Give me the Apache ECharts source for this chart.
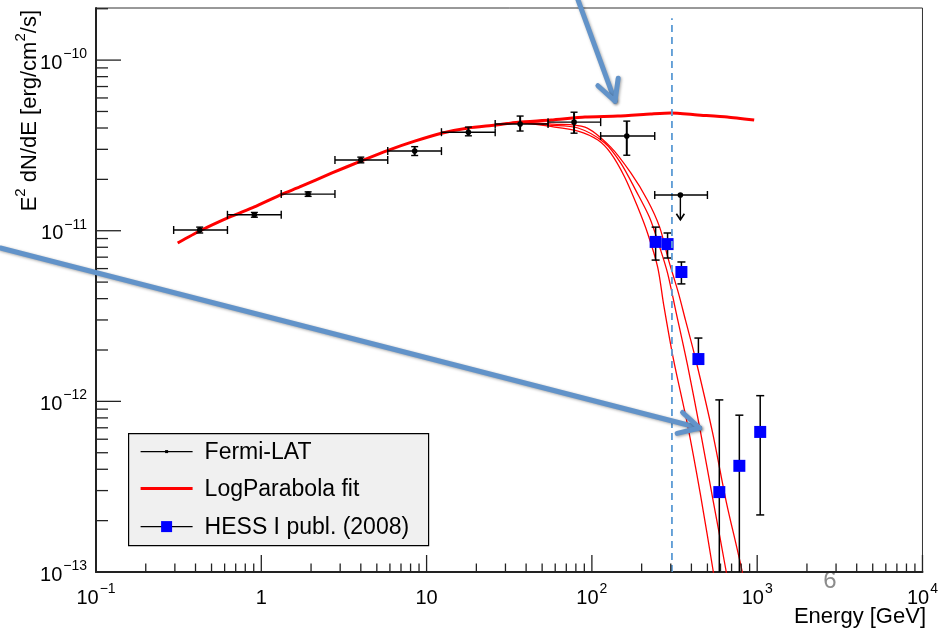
<!DOCTYPE html>
<html>
<head>
<meta charset="utf-8">
<script src="https://cdn.jsdelivr.net/npm/echarts@6/dist/echarts.min.js"></script>
<style>
  html, body { margin: 0; padding: 0; background: #fff; }
  #chart { width: 941px; height: 628px; }
</style>
</head>
<body>
<div id="chart"></div>
<script>
// Fermi-LAT bins: energy [GeV] and E^2 dN/dE [erg/cm2/s]
const fermiE = [0.424, 0.908, 1.92, 4.00, 8.47, 17.9, 36.8, 78.0, 162.6]
const fermiElo = [0.295, 0.624, 1.32, 2.79, 5.82, 12.3, 26.0, 54.3, 113]
const fermiEhi = [0.624, 1.32, 2.79, 5.82, 12.3, 26.0, 54.3, 113, 240]
const fermiF = [1.01e-11, 1.24e-11, 1.64e-11, 2.60e-11, 2.93e-11, 3.78e-11, 4.22e-11, 4.33e-11, 3.59e-11]
const fermiFlo = [0.97e-11, 1.20e-11, 1.59e-11, 2.50e-11, 2.76e-11, 3.60e-11, 3.84e-11, 3.73e-11, 2.77e-11]
const fermiFhi = [1.05e-11, 1.28e-11, 1.69e-11, 2.70e-11, 3.11e-11, 4.05e-11, 4.70e-11, 4.95e-11, 4.39e-11]
// last Fermi bin is an upper limit
const ulE = [343]
const ulElo = [240]
const ulEhi = [500]
const ulF = [1.62e-11]
const ulTo = [1.16e-11]

// HESS I publ. (2008)
const hessE = [243, 287, 348, 441, 590, 780, 1043]
const hessF = [8.6e-12, 8.35e-12, 5.73e-12, 1.77e-12, 2.94e-13, 4.19e-13, 6.62e-13]
const hessFlo = [6.73e-12, 6.92e-12, 4.88e-12, 1.66e-12, 1e-14, 1e-14, 2.16e-13]
const hessFhi = [1.05e-11, 9.7e-12, 6.56e-12, 2.35e-12, 1.02e-12, 8.3e-13, 1.08e-12]

// LogParabola fit (thick) and the three cut-off curves
const fitE = [0.312, 0.424, 0.641, 0.908, 1.338, 1.694, 2.68, 4.00, 5.90, 8.47, 12.3, 17.9, 26.0, 35.8, 56.6, 90.8, 143.5, 226, 299, 435, 659, 959]
const fitF = [8.47e-12, 9.96e-12, 1.20e-11, 1.38e-11, 1.64e-11, 1.80e-11, 2.18e-11, 2.56e-11, 2.97e-11, 3.35e-11, 3.73e-11, 4.00e-11, 4.16e-11, 4.33e-11, 4.45e-11, 4.64e-11, 4.70e-11, 4.83e-11, 4.90e-11, 4.77e-11, 4.64e-11, 4.45e-11]
const cutLoE = [26.0, 35.8, 54.3, 82.4, 108.7, 130, 158, 189, 217, 250, 272, 312, 379, 454, 543, 590]
const cutLoF = [4.16e-11, 4.30e-11, 4.10e-11, 3.84e-11, 3.40e-11, 2.85e-11, 2.06e-11, 1.38e-11, 9.70e-12, 6.12e-12, 3.67e-12, 1.75e-12, 7.28e-13, 2.83e-13, 1.00e-13, 6.0e-14]
const cutMidE = [26.0, 35.8, 54.3, 82.4, 119.7, 149.6, 184, 223, 257, 287, 321, 379, 454, 543, 650, 707]
const cutMidF = [4.16e-11, 4.32e-11, 4.16e-11, 4.00e-11, 3.27e-11, 2.49e-11, 1.73e-11, 1.20e-11, 8.03e-12, 5.65e-12, 3.43e-12, 1.63e-12, 6.62e-13, 2.58e-13, 1.00e-13, 6.0e-14]
const cutHiE = [26.0, 35.8, 58.2, 90.8, 130, 172, 217, 257, 291, 334, 368, 423, 536, 650, 812, 883]
const cutHiF = [4.16e-11, 4.33e-11, 4.22e-11, 4.05e-11, 3.09e-11, 2.18e-11, 1.51e-11, 1.05e-11, 6.73e-12, 4.31e-12, 3.00e-12, 1.79e-12, 6.62e-13, 2.58e-13, 1.00e-13, 6.0e-14]

// vertical dashed marker
const markE = [305]
const markF = [1e-13, 1.76e-10]

// axis ranges and ticks
const xMin = 0.1, xMax = 1e4
const yMin = 1e-13, yMax = 2.02e-10
const xMajor = [0.1, 1, 10, 100, 1000, 10000]
const yMajor = [1e-13, 1e-12, 1e-11, 1e-10]
const minorSteps = [2, 3, 4, 5, 6, 7, 8, 9]

// slide annotation arrows (tail -> tip)
const arrowFromE = [82.4, 0.0264]
const arrowFromF = [2.25e-10, 7.92e-12]
const arrowToE = [138, 448]
const arrowToF = [5.75e-11, 6.98e-13]

const FONT = '"Liberation Sans", Arial, Helvetica, sans-serif'
const RED = '#ff0000'
const ARROW = '#6293c9'

const zip = (a, b) => a.map((v, i) => [v, b[i]])

function powLabel(v) {
  const e = Math.log10(v)
  const n = Math.round(e)
  if (Math.abs(e - n) > 1e-6) return ''
  if (n === 0) return '{b|1}'
  if (n === 1) return '{b|10}'
  return '{b|10}{s|' + (n < 0 ? '\u2212' + (-n) : n) + '}'
}
const labelRich = {
  b: { fontSize: 20, fontFamily: FONT, color: '#000', lineHeight: 26, verticalAlign: 'bottom' },
  s: { fontSize: 14, fontFamily: FONT, color: '#000', lineHeight: 26, verticalAlign: 'top', padding: [0, 0, 0, 1] }
}

// tick marks, ROOT style (inside)
const tickData = []
xMajor.forEach((v) => tickData.push([v, yMin, 0]))
xMajor.slice(0, -1).forEach((d) => minorSteps.forEach((k) => tickData.push([d * k, yMin, 1])))
yMajor.forEach((v) => tickData.push([xMin, v, 2]))
yMajor.forEach((d) => minorSteps.forEach((k) => {
  if (d * k <= yMax) tickData.push([xMin, d * k, 3])
}))

function renderTick(params, api) {
  const p = api.coord([api.value(0), api.value(1)])
  const kind = api.value(2)
  const len = [17, 8.5, 25, 12][kind]
  const shape = kind < 2
    ? { x1: p[0], y1: p[1], x2: p[0], y2: p[1] - len }
    : { x1: p[0], y1: p[1], x2: p[0] + len, y2: p[1] }
  return { type: 'line', shape, style: { stroke: '#222', lineWidth: 1.3 } }
}

function renderFermi(params, api) {
  const e = api.value(0), f = api.value(1)
  const c = api.coord([e, f])
  const xl = api.coord([api.value(2), f])[0]
  const xh = api.coord([api.value(3), f])[0]
  const yl = api.coord([e, api.value(4)])[1]
  const yh = api.coord([e, api.value(5)])[1]
  const st = { stroke: '#000', lineWidth: 1.4 }
  const cap = 4
  return {
    type: 'group',
    children: [
      { type: 'line', shape: { x1: xl, y1: c[1], x2: xh, y2: c[1] }, style: st },
      { type: 'line', shape: { x1: xl, y1: c[1] - cap, x2: xl, y2: c[1] + cap }, style: st },
      { type: 'line', shape: { x1: xh, y1: c[1] - cap, x2: xh, y2: c[1] + cap }, style: st },
      { type: 'line', shape: { x1: c[0], y1: yl, x2: c[0], y2: yh }, style: { stroke: '#000', lineWidth: 2 } },
      { type: 'line', shape: { x1: c[0] - 3.5, y1: yl, x2: c[0] + 3.5, y2: yl }, style: st },
      { type: 'line', shape: { x1: c[0] - 3.5, y1: yh, x2: c[0] + 3.5, y2: yh }, style: st },
      { type: 'circle', shape: { cx: c[0], cy: c[1], r: 2.8 }, style: { fill: '#000' } }
    ]
  }
}

function renderUL(params, api) {
  const e = api.value(0), f = api.value(1)
  const c = api.coord([e, f])
  const xl = api.coord([api.value(2), f])[0]
  const xh = api.coord([api.value(3), f])[0]
  const yt = api.coord([e, api.value(4)])[1]
  const st = { stroke: '#000', lineWidth: 1.4 }
  return {
    type: 'group',
    children: [
      { type: 'line', shape: { x1: xl, y1: c[1], x2: xh, y2: c[1] }, style: st },
      { type: 'line', shape: { x1: xl, y1: c[1] - 4, x2: xl, y2: c[1] + 4 }, style: st },
      { type: 'line', shape: { x1: xh, y1: c[1] - 4, x2: xh, y2: c[1] + 4 }, style: st },
      { type: 'line', shape: { x1: c[0], y1: c[1], x2: c[0], y2: yt }, style: st },
      { type: 'polyline', shape: { points: [[c[0] - 4, yt - 6], [c[0], yt], [c[0] + 4, yt - 6]] }, style: { stroke: '#000', lineWidth: 1.6, fill: 'none' } },
      { type: 'circle', shape: { cx: c[0], cy: c[1], r: 2.8 }, style: { fill: '#000' } }
    ]
  }
}

function renderHess(params, api) {
  const e = api.value(0), f = api.value(1)
  const c = api.coord([e, f])
  const yl = api.coord([e, api.value(2)])[1]
  const yh = api.coord([e, api.value(3)])[1]
  const st = { stroke: '#000', lineWidth: 1.5 }
  const s = 12
  return {
    type: 'group',
    children: [
      { type: 'line', shape: { x1: c[0], y1: yl, x2: c[0], y2: yh }, style: st },
      { type: 'line', shape: { x1: c[0] - 4, y1: yl, x2: c[0] + 4, y2: yl }, style: st },
      { type: 'line', shape: { x1: c[0] - 4, y1: yh, x2: c[0] + 4, y2: yh }, style: st },
      { type: 'rect', shape: { x: c[0] - s / 2, y: c[1] - s / 2, width: s, height: s }, style: { fill: '#0000ff' } }
    ]
  }
}

const chart = echarts.init(document.getElementById('chart'))

const option = {
  animation: false,
  backgroundColor: '#fff',
  grid: { left: 96, right: 15, top: 8, bottom: 56, show: true, borderColor: '#333', borderWidth: 1 },
  xAxis: {
    type: 'log',
    logBase: 10,
    min: xMin,
    max: xMax,
    axisLine: { show: true, onZero: false, lineStyle: { color: '#222', width: 2 } },
    axisTick: { show: false },
    splitLine: { show: false },
    axisLabel: { formatter: powLabel, rich: labelRich, margin: 10, showMinLabel: true, showMaxLabel: true }
  },
  yAxis: {
    type: 'log',
    logBase: 10,
    min: yMin,
    max: yMax,
    axisLine: { show: true, onZero: false, lineStyle: { color: '#222', width: 2 } },
    axisTick: { show: false },
    splitLine: { show: false },
    axisLabel: { formatter: powLabel, rich: labelRich, margin: 9, showMinLabel: true, showMaxLabel: true }
  },
  series: [
    {
      name: 'LogParabola fit',
      type: 'line',
      data: zip(fitE, fitF),
      showSymbol: false,
      smooth: 0.2,
      lineStyle: { color: RED, width: 3 },
      z: 3
    },
    {
      type: 'line',
      data: zip(cutLoE, cutLoF),
      showSymbol: false,
      smooth: 0.3,
      lineStyle: { color: RED, width: 1.3 },
      z: 3
    },
    {
      type: 'line',
      data: zip(cutMidE, cutMidF),
      showSymbol: false,
      smooth: 0.3,
      lineStyle: { color: RED, width: 1.3 },
      z: 3
    },
    {
      type: 'line',
      data: zip(cutHiE, cutHiF),
      showSymbol: false,
      smooth: 0.3,
      lineStyle: { color: RED, width: 1.3 },
      z: 3
    },
    {
      type: 'line',
      data: markF.map((f) => [markE[0], f]),
      showSymbol: false,
      lineStyle: { color: '#5b9bd5', width: 1.8, type: [7, 5] },
      z: 4
    },
    {
      name: 'Fermi-LAT',
      type: 'custom',
      renderItem: renderFermi,
      data: fermiE.map((e, i) => [e, fermiF[i], fermiElo[i], fermiEhi[i], fermiFlo[i], fermiFhi[i]]),
      encode: { x: 0, y: 1 },
      clip: true,
      z: 5
    },
    {
      type: 'custom',
      renderItem: renderUL,
      data: ulE.map((e, i) => [e, ulF[i], ulElo[i], ulEhi[i], ulTo[i]]),
      encode: { x: 0, y: 1 },
      clip: true,
      z: 5
    },
    {
      name: 'HESS I publ. (2008)',
      type: 'custom',
      renderItem: renderHess,
      data: hessE.map((e, i) => [e, hessF[i], hessFlo[i], hessFhi[i]]),
      encode: { x: 0, y: 1 },
      clip: true,
      z: 4
    },
    {
      type: 'custom',
      renderItem: renderTick,
      data: tickData,
      encode: { x: 0, y: 1 },
      clip: false,
      silent: true,
      z: 6
    }
  ]
}

chart.setOption(option)

// slide arrows, placed through the axes
function arrowShape(from, to) {
  const dx = from[0] - to[0], dy = from[1] - to[1]
  const l = Math.hypot(dx, dy)
  const ux = dx / l, uy = dy / l
  const len = 23, a = 28 * Math.PI / 180
  const b1 = [to[0] + len * (ux * Math.cos(a) - uy * Math.sin(a)), to[1] + len * (ux * Math.sin(a) + uy * Math.cos(a))]
  const b2 = [to[0] + len * (ux * Math.cos(-a) - uy * Math.sin(-a)), to[1] + len * (ux * Math.sin(-a) + uy * Math.cos(-a))]
  const st = { stroke: ARROW, lineWidth: 5, lineCap: 'round', lineJoin: 'round', fill: 'none', shadowBlur: 3, shadowColor: 'rgba(0,0,0,0.35)', shadowOffsetX: 1, shadowOffsetY: 1 }
  return [
    { type: 'line', shape: { x1: from[0], y1: from[1], x2: to[0], y2: to[1] }, style: st, z: 20 },
    { type: 'polyline', shape: { points: [b1, to, b2] }, style: st, z: 20 }
  ]
}

const arrows = []
arrowFromE.forEach((e, i) => {
  const from = chart.convertToPixel({ gridIndex: 0 }, [e, arrowFromF[i]])
  const to = chart.convertToPixel({ gridIndex: 0 }, [arrowToE[i], arrowToF[i]])
  arrows.push(...arrowShape(from, to))
})

const legendTxt = { fontSize: 23, fontFamily: FONT, fill: '#000', verticalAlign: 'middle' }
const legend = {
  type: 'group',
  left: 128,
  top: 433,
  z: 10,
  children: [
    { type: 'rect', shape: { x: 0, y: 0, width: 300, height: 112 }, style: { fill: '#f0f0f0', stroke: '#000', lineWidth: 1.2 } },
    { type: 'line', shape: { x1: 12, y1: 18, x2: 64, y2: 18 }, style: { stroke: '#000', lineWidth: 1.2 } },
    { type: 'rect', shape: { x: 36.5, y: 16.5, width: 3, height: 3 }, style: { fill: '#000' } },
    { type: 'text', x: 76, y: 19, style: Object.assign({ text: 'Fermi-LAT' }, legendTxt) },
    { type: 'line', shape: { x1: 12, y1: 55, x2: 64, y2: 55 }, style: { stroke: RED, lineWidth: 3 } },
    { type: 'text', x: 76, y: 56, style: Object.assign({ text: 'LogParabola fit' }, legendTxt) },
    { type: 'line', shape: { x1: 12, y1: 93, x2: 64, y2: 93 }, style: { stroke: '#000', lineWidth: 1.2 } },
    { type: 'rect', shape: { x: 32.5, y: 87.5, width: 11, height: 11 }, style: { fill: '#0000ff' } },
    { type: 'text', x: 76, y: 94, style: Object.assign({ text: 'HESS I publ. (2008)' }, legendTxt) }
  ]
}

chart.setOption({
  graphic: [
    legend,
    {
      type: 'text',
      x: 926,
      y: 617,
      style: { text: 'Energy [GeV]', fontSize: 22, fontFamily: FONT, fill: '#000', align: 'right', verticalAlign: 'middle' }
    },
    {
      type: 'text',
      x: 27,
      y: 10,
      rotation: Math.PI / 2,
      style: {
        text: '{a|E}{s|2}{a| dN/dE [erg/cm}{s|2}{a|/s]}',
        align: 'right',
        verticalAlign: 'middle',
        rich: {
          a: { fontSize: 22, fontFamily: FONT, fill: '#000', lineHeight: 28, verticalAlign: 'bottom' },
          s: { fontSize: 15, fontFamily: FONT, fill: '#000', lineHeight: 28, verticalAlign: 'top' }
        }
      }
    },
    {
      type: 'text',
      x: 830,
      y: 581,
      style: { text: '6', fontSize: 24, fontFamily: FONT, fill: '#8c8c8c', align: 'center', verticalAlign: 'middle' }
    },
    ...arrows
  ]
})
</script>
</body>
</html>
